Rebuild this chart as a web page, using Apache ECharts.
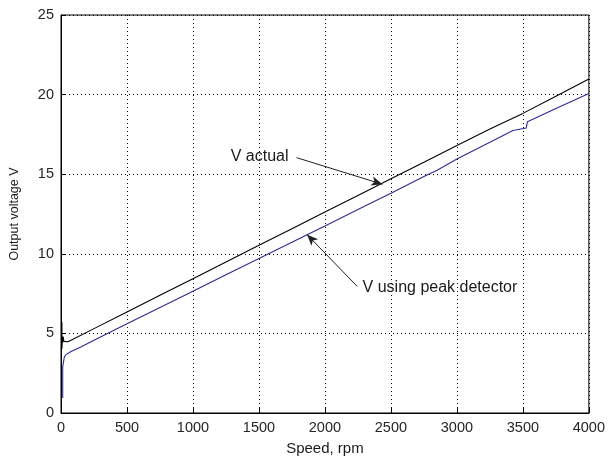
<!DOCTYPE html>
<html>
<head>
<meta charset="utf-8">
<script src="https://cdn.jsdelivr.net/npm/echarts@6/dist/echarts.min.js"></script>
<style>
html,body{margin:0;padding:0;background:#fff;}
#chart{width:608px;height:461px;}
</style>
</head>
<body>
<div id="chart"></div>
<script>
// ---- data ----
const actualSpeed = [7, 7.5, 9, 12, 16, 22, 30, 53, 250, 500, 750, 1000, 1250, 1500, 1750, 2000, 2250, 2500, 2750, 3000, 3250, 3500, 3750, 4000];
const actualVolt  = [5.7, 4.05, 4.7, 4.4, 4.8, 4.5, 4.6, 4.48, 5.3, 6.35, 7.39, 8.44, 9.48, 10.53, 11.57, 12.62, 13.66, 14.71, 15.75, 16.8, 17.84, 18.82, 19.9, 20.98];

const peakSpeed = [13, 13, 25, 25, 35, 50, 76, 150, 250, 500, 750, 1000, 1250, 1500, 1750, 1865, 2000, 2250, 2500, 2750, 2850, 2860, 3000, 3250, 3425, 3525, 3535, 3750, 4000];
const peakVolt  = [0.95, 2.9, 2.95, 3.5, 3.65, 3.75, 3.86, 4.15, 4.57, 5.6, 6.62, 7.65, 8.68, 9.7, 10.72, 11.2, 11.75, 12.78, 13.8, 14.85, 15.25, 15.35, 15.95, 17.0, 17.75, 17.9, 18.3, 19.13, 20.07];

const xTicks = [0, 500, 1000, 1500, 2000, 2500, 3000, 3500, 4000];
const yTicks = [0, 5, 10, 15, 20, 25];

// annotations
const labelActual = 'V actual';
const actualTextAt = [1505, 16.1];
const actualArrow = [[1785, 16.04], [2435, 14.37]];
const labelPeak = 'V using peak detector';
const peakTextAt = [2270, 7.9];
const peakArrow = [[2245, 7.95], [1865, 11.2]];

const zip = (a, b) => a.map((v, i) => [v, b[i]]);

const FONT = '"Liberation Sans", Arial, sans-serif';
const chart = echarts.init(document.getElementById('chart'), null, {renderer: 'canvas'});

const arrowLine = (pts) => ({
  silent: true,
  symbol: ['none', 'arrow'],
  symbolSize: [7, 11],
  label: {show: false},
  lineStyle: {color: '#222', width: 1, type: 'solid'},
  emphasis: {disabled: true},
  animation: false,
  data: [[{coord: pts[0]}, {coord: pts[1]}]]
});

chart.setOption({
  animation: false,
  backgroundColor: '#fff',
  grid: {left: 60, right: 18, top: 15, bottom: 44, show: true, borderColor: '#000', borderWidth: 1},
  xAxis: {
    type: 'value', min: 0, max: 4000, interval: 500,
    name: 'Speed, rpm', nameLocation: 'middle', nameGap: 28,
    nameTextStyle: {fontFamily: FONT, fontSize: 15, color: '#1a1a1a'},
    axisLine: {show: true, onZero: false, lineStyle: {color: '#000', width: 1}},
    axisTick: {show: true, inside: true, length: 5, lineStyle: {color: '#000'}},
    axisLabel: {fontFamily: FONT, fontSize: 14.5, color: '#262626', margin: 7,
      formatter: v => xTicks.includes(v) ? String(v) : ''},
    splitLine: {show: true, lineStyle: {color: '#000', width: 1, type: [1, 3]}}
  },
  yAxis: {
    type: 'value', min: 0, max: 25, interval: 5,
    name: 'Output voltage V', nameLocation: 'middle', nameGap: 40,
    nameTextStyle: {fontFamily: FONT, fontSize: 12.5, color: '#1a1a1a'},
    axisLine: {show: true, onZero: false, lineStyle: {color: '#000', width: 1}},
    axisTick: {show: true, inside: true, length: 5, lineStyle: {color: '#000'}},
    axisLabel: {fontFamily: FONT, fontSize: 14.5, color: '#262626', margin: 7,
      formatter: v => yTicks.includes(v) ? String(v) : ''},
    splitLine: {show: true, lineStyle: {color: '#000', width: 1, type: [1, 3]}}
  },
  series: [
    {
      name: 'V actual', type: 'line', data: zip(actualSpeed, actualVolt),
      showSymbol: false, symbol: 'none', silent: true,
      lineStyle: {color: '#000', width: 1.1},
      markLine: arrowLine(actualArrow),
      markPoint: {
        silent: true, symbol: 'circle', symbolSize: 0, animation: false,
        data: [{coord: actualTextAt, label: {show: true, position: 'inside', formatter: labelActual,
          fontFamily: FONT, fontSize: 16, color: '#1a1a1a'}}]
      }
    },
    {
      name: 'V using peak detector', type: 'line', data: zip(peakSpeed, peakVolt),
      showSymbol: false, symbol: 'none', silent: true,
      lineStyle: {color: '#2b2b9c', width: 1.1},
      markLine: arrowLine(peakArrow),
      markPoint: {
        silent: true, symbol: 'circle', symbolSize: 0, animation: false,
        data: [{coord: peakTextAt, label: {show: true, position: 'right', distance: 2, formatter: labelPeak,
          fontFamily: FONT, fontSize: 16, color: '#1a1a1a'}}]
      }
    }
  ]
});
</script>
</body>
</html>
